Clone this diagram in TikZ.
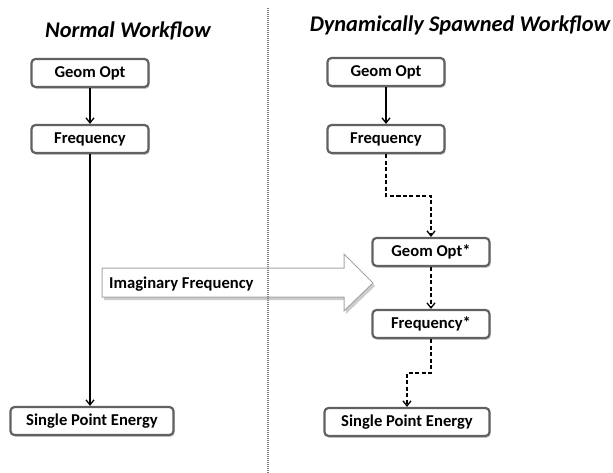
\documentclass[tikz,border=0pt]{standalone}
\usepackage{fontspec}
\setmainfont{Carlito}
\usetikzlibrary{arrows.meta,shadows,calc}
\begin{document}
\begin{tikzpicture}[x=1pt,y=-1pt,
  box/.style={draw=black!62, line width=2.2pt, rounded corners=4pt, fill=white,
    minimum height=28pt, inner sep=0pt, font=\fontsize{16.6}{18}\selectfont\bfseries,
    drop shadow={opacity=0.4, shadow xshift=1.2pt, shadow yshift=-1.8pt}},
  conn/.style={line width=1.4pt, -{Straight Barb[length=5pt,width=8pt,line width=1.3pt]}},
  dconn/.style={conn, dash pattern=on 4pt off 2.5pt},
  title/.style={font=\fontsize{22.4}{26}\selectfont\bfseries\itshape, anchor=base}
]
\useasboundingbox (0,0) rectangle (613,473);
% titles
\node[title] (t1) at (128,38) {Normal Workflow};
\node[title] (t2) at (460,32) {Dynamically Spawned Workflow};
% imaginary frequency arrow
\fill[black!20] (104,271) -- (346,271) -- (346,257) -- (375,286) -- (346,314) -- (346,300) -- (104,300) -- cycle;
\draw[black!35, line width=1pt, fill=white, line join=miter]
  (102,268) -- (344,268) -- (344,254) -- (373,283) -- (344,311) -- (344,297) -- (102,297) -- cycle;
\node[font=\fontsize{16.6}{18}\selectfont\bfseries, anchor=west, inner sep=0pt] (imag) at (109,284) {Imaginary Frequency};
% divider
\draw[black!50, line width=1.3pt, dash pattern=on 1pt off 1pt] (268,8) -- (268,473);
% left workflow
\node[box, minimum width=117pt] (lgo) at (90,73) {Geom Opt};
\node[box, minimum width=117pt] (lfreq) at (90,139) {Frequency};
\node[box, minimum width=163pt] (lspe) at (92,421) {Single Point Energy};
\draw[conn] (lgo.south) -- (lfreq.north);
\draw[conn] (lfreq.south) -- (lfreq.south |- lspe.north);
% right workflow
\node[box, minimum width=117pt] (rgo) at (386,72) {Geom Opt};
\node[box, minimum width=117pt] (rfreq) at (386,139) {Frequency};
\node[box, minimum width=117pt] (rgo2) at (431,252) {Geom Opt*};
\node[box, minimum width=117pt] (rfreq2) at (431,324) {Frequency*};
\node[box, minimum width=165pt] (rspe) at (407,422) {Single Point Energy};
\draw[conn] (rgo.south) -- (rfreq.north);
\coordinate (m1) at (400,196);
\coordinate (m2) at (420,373);
\draw[dconn] (rfreq.south) |- (m1) -| (rgo2.north);
\draw[dconn] (rgo2.south) -- (rfreq2.north);
\draw[dconn] (rfreq2.south) |- (m2) -| (rspe.north);
\end{tikzpicture}
\end{document}
